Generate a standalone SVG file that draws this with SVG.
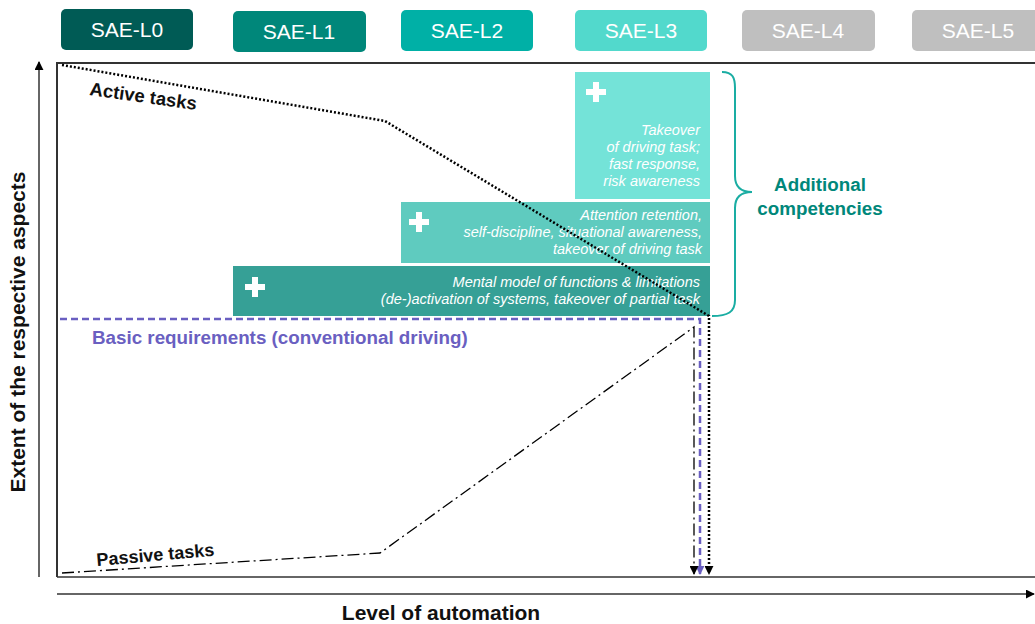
<svg xmlns="http://www.w3.org/2000/svg" width="1035" height="624" viewBox="0 0 1035 624">
<style>
.sae{font-family:"Liberation Sans",Arial,sans-serif;font-size:21px;fill:#fff;text-anchor:middle}
.it{font-family:"Liberation Sans",Arial,sans-serif;font-size:14.5px;font-style:italic;fill:#fff;text-anchor:end}
.lbl{font-family:"Liberation Sans",Arial,sans-serif;font-weight:bold;fill:#111}
.plus{fill:#fff}
</style>
<defs>
<marker id="ahs" viewBox="0 0 10 10" refX="9" refY="5" markerWidth="9" markerHeight="9" orient="auto" markerUnits="userSpaceOnUse"><path d="M0,0L10,5L0,10z" fill="#000"/></marker>
<marker id="ahp" viewBox="0 0 10 10" refX="9" refY="5" markerWidth="9" markerHeight="9" orient="auto" markerUnits="userSpaceOnUse"><path d="M0,0L10,5L0,10z" fill="#6a5fc1"/></marker>
<path id="pl" d="M-3,-10h6v7h7v6h-7v7h-6v-7h-7v-6h7z"/>
</defs>
<rect width="1035" height="624" fill="#fff"/>

<g id="sae-l0"><rect x="61" y="9" width="132" height="41" rx="5" fill="#005b55"/><text class="sae" x="127" y="37">SAE-L0</text></g>
<g id="sae-l1"><rect x="233" y="11" width="133" height="41" rx="5" fill="#00877a"/><text class="sae" x="299" y="39">SAE-L1</text></g>
<g id="sae-l2"><rect x="401" y="10" width="132" height="41" rx="5" fill="#00b0a6"/><text class="sae" x="467" y="38">SAE-L2</text></g>
<g id="sae-l3"><rect x="575" y="10" width="132" height="41" rx="5" fill="#52d9cc"/><text class="sae" x="641" y="38">SAE-L3</text></g>
<g id="sae-l4"><rect x="742" y="10" width="133" height="41" rx="5" fill="#bfbfbf"/><text class="sae" x="808" y="38">SAE-L4</text></g>
<g id="sae-l5"><rect x="912" y="10" width="128" height="41" rx="5" fill="#bfbfbf"/><text class="sae" x="978" y="38">SAE-L5</text></g>

<g id="frame" fill="none" stroke="#333">
<path d="M57,577V63H1040" stroke-width="2"/>
<path d="M57,577H1040" stroke-width="1.5"/>
</g>

<g id="comp-l3"><rect x="575" y="72" width="135" height="127" fill="#74e3d8"/><use href="#pl" x="596" y="92" class="plus"/>
<text class="it" x="700" y="135">Takeover</text><text class="it" x="700" y="152">of driving task;</text><text class="it" x="700" y="169">fast response,</text><text class="it" x="700" y="186">risk awareness</text></g>
<g id="comp-l2"><rect x="401" y="202" width="309" height="61" fill="#5fcbbf"/><use href="#pl" x="419" y="222" class="plus"/>
<text class="it" x="702" y="220">Attention retention,</text><text class="it" x="702" y="237">self-discipline, situational awareness,</text><text class="it" x="702" y="254">takeover of driving task</text></g>
<g id="comp-l1"><rect x="233" y="266" width="477" height="50" fill="#36a096"/><use href="#pl" x="255" y="287" class="plus"/>
<text class="it" x="700" y="287">Mental model of functions &amp; limitations</text><text class="it" x="700" y="304">(de-)activation of systems, takeover of partial task</text></g>

<g id="bracket"><path d="M722,72C733,72 735,78 735,88V176C735,186 740,192 752,192C740,192 735,198 735,208V300C735,312 728,316 712,316" fill="none" stroke="#1aada3" stroke-width="2"/>
<text x="820" y="191" text-anchor="middle" font-family="Liberation Sans,Arial,sans-serif" font-weight="bold" font-size="18.8" fill="#00877a">Additional</text>
<text x="820" y="215" text-anchor="middle" font-family="Liberation Sans,Arial,sans-serif" font-weight="bold" font-size="18.8" fill="#00877a">competencies</text></g>

<g id="connectors" fill="none">
<path d="M60,319H700V574" stroke="#6a5fc1" stroke-width="2.5" stroke-dasharray="7,4" marker-end="url(#ahp)"/>
<path d="M62,65L385,121L709,316V574" stroke="#000" stroke-width="2.5" stroke-dasharray="2,2" marker-end="url(#ahs)"/>
<path d="M62,573L380,553L694,327V574" stroke="#000" stroke-width="1.3" stroke-dasharray="12,4,2,4" marker-end="url(#ahs)"/>
<path d="M39,577V62" stroke="#333" stroke-width="1.5" marker-end="url(#ahs)"/>
<path d="M57,594H1034" stroke="#333" stroke-width="1.5" marker-end="url(#ahs)"/>
</g>

<g id="labels">
<text class="lbl" x="89" y="95" transform="rotate(8 89 95)" style="font-size:18.5px">Active tasks</text>
<text class="lbl" x="97" y="566" transform="rotate(-5 97 566)" style="font-size:18px">Passive tasks</text>
<text x="92" y="344" font-family="Liberation Sans,Arial,sans-serif" font-weight="bold" font-size="18.8" fill="#6a5fc1">Basic requirements (conventional driving)</text>
<text class="lbl" x="441" y="620" text-anchor="middle" style="font-size:21px">Level of automation</text>
<text class="lbl" x="0" y="0" text-anchor="middle" style="font-size:21px" transform="translate(25,332) rotate(-90)">Extent of the respective aspects</text>
</g>
</svg>
